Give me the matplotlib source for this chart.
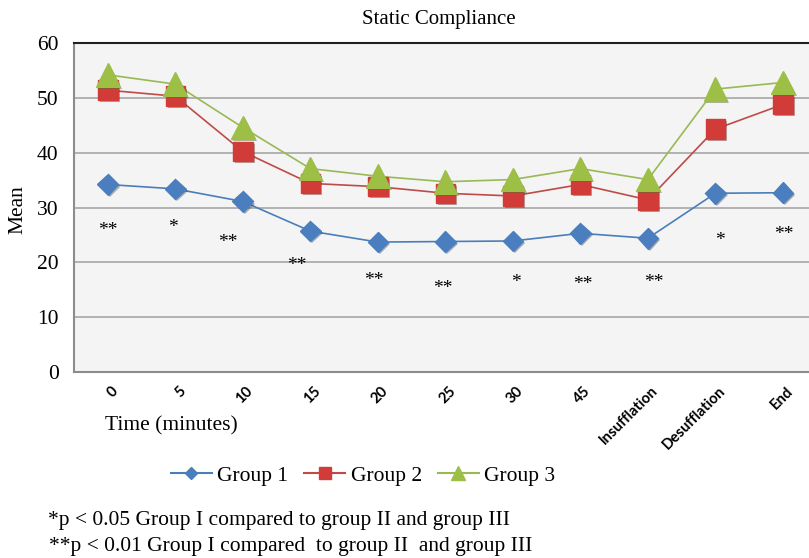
import matplotlib.pyplot as plt
import matplotlib.patheffects as pe
from matplotlib.transforms import ScaledTranslation

plt.rcParams['font.family'] = ['Liberation Serif', 'DejaVu Serif']

times = ['0', '5', '10', '15', '20', '25', '30', '45',
         'Insufflation', 'Desufflation', 'End']
group1 = [34.2, 33.4, 31.1, 25.7, 23.7, 23.8, 23.9, 25.3, 24.4, 32.6, 32.7]
group2 = [51.4, 50.3, 40.2, 34.4, 33.8, 32.6, 32.1, 34.2, 31.4, 44.3, 48.8]
group3 = [54.2, 52.5, 44.6, 37.1, 35.7, 34.7, 35.1, 37.1, 35.1, 51.6, 52.8]

# significance marks under each time point
stars = ['**', '*', '**', '**', '**', '**', '*', '**', '**', '*', '**']
star_y = [26.6, 27.0, 24.3, 20.2, 17.3, 16.0, 17.1, 16.6, 17.1, 24.6, 25.7]
star_dx = [0.0, -0.03, -0.22, -0.2, -0.06, -0.04, 0.05, 0.04, 0.08, 0.06, 0.02]

fig = plt.figure(figsize=(8.09, 5.58), dpi=100)
ax = fig.add_axes([0.0915, 0.3333, 0.918, 0.5896])
ax.set_facecolor('#f4f4f4')

x = list(range(len(times)))
shadow = [pe.SimplePatchShadow(offset=(1.5, -1.5), alpha=0.35), pe.Normal()]

series = [
    (group1, 'Group 1', '#4a7ebb', '#4a7ebf', 'D', 10.5, 6.5),
    (group2, 'Group 2', '#be4b48', '#d13c38', 's', 14, 8.5),
    (group3, 'Group 3', '#98b954', '#9dbf45', '^', 17, 10.5),
]
for vals, name, lc, mc, mk, ms, lms in series:
    ax.plot(x, vals, color=lc, lw=1.2, zorder=3)
    ax.plot(x, vals, ls='none', marker=mk, ms=ms, color=mc, mec=mc,
            path_effects=shadow, zorder=4)
    # legend proxy with smaller markers
    ax.plot([], [], color=lc, lw=1.5, marker=mk, ms=lms,
            mfc=mc, mec=mc, label=name)

for i, (s, yv) in enumerate(zip(stars, star_y)):
    ax.text(i + star_dx[i], yv - 0.7, s, ha='center', va='center', fontsize=14)

ax.set_xlim(-0.5, 10.5)
ax.set_ylim(0, 60)
ax.set_yticks(range(0, 61, 10))
ax.yaxis.grid(True, color='#a6a6a6', lw=1.2)
ax.set_axisbelow(True)
ax.tick_params(axis='both', length=0)
ax.tick_params(axis='y', pad=11, labelsize=15.5)

ax.set_xticks(x)
ax.set_xticklabels(times, rotation=45, ha='right', va='center',
                   rotation_mode='anchor', fontsize=10.7,
                   fontweight='bold', family='Lato')
for lbl in ax.get_xticklabels():
    lbl.set_transform(lbl.get_transform() +
                      ScaledTranslation(0.08, -0.12, fig.dpi_scale_trans))

for side in ['left', 'bottom']:
    ax.spines[side].set_color('#8c8c8c')
    ax.spines[side].set_linewidth(1.5)
ax.spines['top'].set_color('#202020')
ax.spines['top'].set_linewidth(1.5)
ax.spines['right'].set_visible(False)

fig.text(0.542, 0.965, 'Static Compliance', ha='center', va='center', fontsize=15)
fig.text(0.022, 0.625, 'Mean', rotation=90, ha='center', va='center', fontsize=15.5)
fig.text(0.13, 0.237, 'Time (minutes)', ha='left', va='center', fontsize=15.5)

fig.legend(loc='center', bbox_to_anchor=(0.449, 0.147), ncol=3, frameon=False,
           fontsize=15.5, handlelength=1.9, columnspacing=0.75, handletextpad=0.25)

fig.text(0.059, 0.068, '*p < 0.05 Group I compared to group II and group III',
         ha='left', va='center', fontsize=15.5)
fig.text(0.061, 0.021, '**p < 0.01 Group I compared  to group II  and group III',
         ha='left', va='center', fontsize=15.5)

fig.savefig('out.png', dpi=100)
